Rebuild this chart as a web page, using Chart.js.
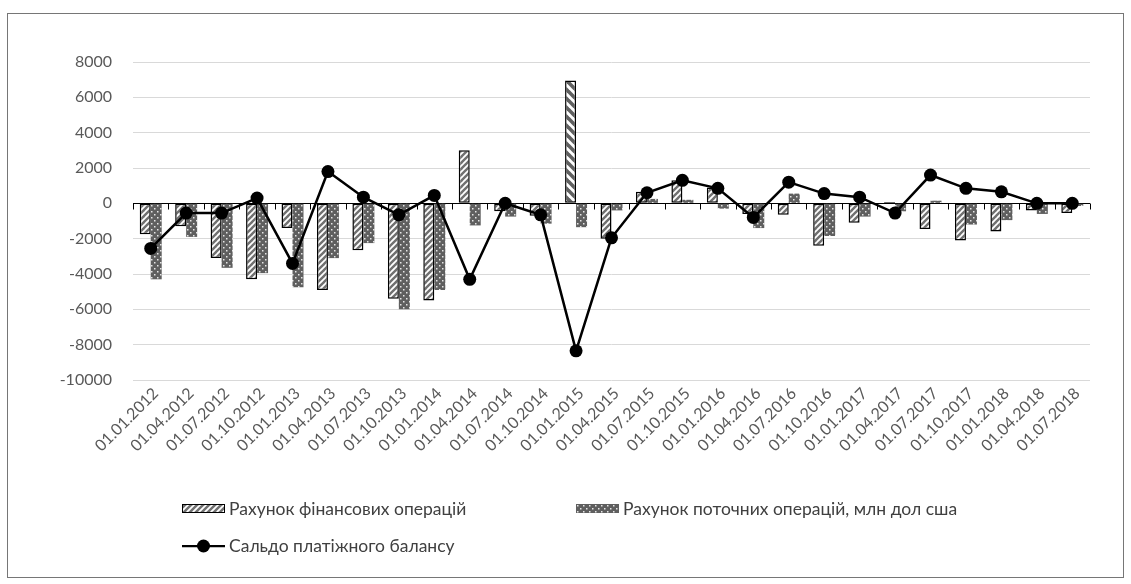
<!DOCTYPE html>
<html>
<head>
<meta charset="utf-8">
<script src="https://cdn.jsdelivr.net/npm/chart.js@4.4.1/dist/chart.umd.min.js"></script>
<style>
  html, body { margin: 0; padding: 0; background: #fff; }
  #wrap { width: 1131px; height: 584px; position: relative; }
</style>
</head>
<body>
<div id="wrap"><canvas id="c" width="1131" height="584"></canvas></div>
<script>
// Quarterly dates
const categories = [
  '01.01.2012','01.04.2012','01.07.2012','01.10.2012',
  '01.01.2013','01.04.2013','01.07.2013','01.10.2013',
  '01.01.2014','01.04.2014','01.07.2014','01.10.2014',
  '01.01.2015','01.04.2015','01.07.2015','01.10.2015',
  '01.01.2016','01.04.2016','01.07.2016','01.10.2016',
  '01.01.2017','01.04.2017','01.07.2017','01.10.2017',
  '01.01.2018','01.04.2018','01.07.2018'
];

// Financial account, million USD
const financialAccount = [
  -1750, -1300, -3100, -4300,
  -1400, -4900, -2650, -5400,
  -5500, 3000, -450, -700,
  6950, -2000, 650, 1300,
  900, -600, -650, -2400,
  -1100, 80, -1450, -2100,
  -1600, -400, -550
];

// Current account, million USD
const currentAccount = [
  -4300, -1900, -3650, -3950,
  -4750, -3100, -2250, -6000,
  -4900, -1250, -750, -1150,
  -1350, -400, 250, 200,
  -300, -1400, 550, -1850,
  -750, -450, 150, -1200,
  -950, -600, -150
];

// Balance of payments
const balance = [
  -2550, -550, -550, 300,
  -3400, 1800, 350, -650,
  450, -4300, 0, -650,
  -8350, -1950, 600, 1300,
  850, -800, 1200, 550,
  350, -550, 1600, 850,
  650, 0, 0
];

const yTicks = { min: -10000, max: 8000, step: 2000 };

const seriesNames = [
  'Рахунок фінансових операцій',
  'Рахунок поточних операцій, млн дол сша',
  'Сальдо платіжного балансу'
];

// --- fill patterns ---
function makePattern(size, painter) {
  const c = document.createElement('canvas');
  c.width = size; c.height = size;
  const g = c.getContext('2d');
  painter(g, size);
  return document.getElementById('c').getContext('2d').createPattern(c, 'repeat');
}

const hatchUp = makePattern(6, (g, s) => {
  g.fillStyle = '#ffffff'; g.fillRect(0, 0, s, s);
  g.strokeStyle = '#707070'; g.lineWidth = 2.4;
  for (let k = -1; k <= 1; k++) {
    g.beginPath();
    g.moveTo(k * s - 1, s + 1);
    g.lineTo(k * s + s + 1, -1);
    g.stroke();
  }
});

const hatchDown = makePattern(9, (g, s) => {
  g.fillStyle = '#ffffff'; g.fillRect(0, 0, s, s);
  g.strokeStyle = '#606060'; g.lineWidth = 3.6;
  for (let k = -1; k <= 1; k++) {
    g.beginPath();
    g.moveTo(k * s - 1, -1);
    g.lineTo(k * s + s + 1, s + 1);
    g.stroke();
  }
});

const dots = makePattern(6, (g, s) => {
  g.fillStyle = '#5f5f5f'; g.fillRect(0, 0, s, s);
  g.fillStyle = '#e6e6e6';
  g.fillRect(1, 1, 1.5, 1.5);
  g.fillRect(4, 4, 1.5, 1.5);
});

const finFill = financialAccount.map(v => v > 5000 ? hatchDown : hatchUp);

const FONT = 'Lato, "Open Sans", sans-serif';

// --- zero axis with tick marks, outer frame, legend ---
const decorations = {
  id: 'decorations',
  beforeDraw(chart) {
    const ctx = chart.ctx;
    ctx.save();
    ctx.fillStyle = '#ffffff';
    ctx.fillRect(0, 0, chart.width, chart.height);
    ctx.restore();
  },
  beforeDatasetsDraw(chart) {
    const ctx = chart.ctx, x = chart.scales.x, y = chart.scales.y;
    const y0 = Math.round(y.getPixelForValue(0)) + 0.5;
    const area = chart.chartArea;
    ctx.save();
    ctx.strokeStyle = '#000000';
    ctx.lineWidth = 1;
    ctx.beginPath();
    ctx.moveTo(area.left, y0);
    ctx.lineTo(area.right, y0);
    const half = (x.getPixelForValue(1) - x.getPixelForValue(0)) / 2;
    for (let i = 0; i <= categories.length; i++) {
      const px = Math.round(x.getPixelForValue(i) - half) + 0.5;
      ctx.moveTo(px, y0);
      ctx.lineTo(px, y0 + 6);
    }
    ctx.stroke();
    ctx.restore();
  },
  afterDraw(chart) {
    const ctx = chart.ctx;
    ctx.save();
    // frame
    ctx.strokeStyle = '#767676';
    ctx.lineWidth = 1;
    ctx.strokeRect(7.5, 13.5, 1116, 564);

    ctx.font = '17.5px ' + FONT;
    ctx.textBaseline = 'middle';

    // item 1
    ctx.fillStyle = hatchUp;
    ctx.fillRect(182, 504, 43, 9);
    ctx.strokeStyle = '#000'; ctx.lineWidth = 1;
    ctx.strokeRect(182.5, 504.5, 42, 8);
    ctx.fillStyle = '#404040';
    ctx.fillText(seriesNames[0], 229, 509);

    // item 2
    ctx.fillStyle = dots;
    ctx.fillRect(576, 504, 43, 9);
    ctx.fillStyle = '#404040';
    ctx.fillText(seriesNames[1], 623, 509);

    // item 3
    ctx.strokeStyle = '#000'; ctx.lineWidth = 2.25;
    ctx.beginPath(); ctx.moveTo(182, 546); ctx.lineTo(225, 546); ctx.stroke();
    ctx.fillStyle = '#000';
    ctx.beginPath(); ctx.arc(203.5, 546, 6.5, 0, Math.PI * 2); ctx.fill();
    ctx.fillStyle = '#404040';
    ctx.fillText(seriesNames[2], 229, 546);
    ctx.restore();
  }
};

new Chart(document.getElementById('c'), {
  type: 'bar',
  data: {
    labels: categories,
    datasets: [
      {
        type: 'line',
        label: seriesNames[2],
        data: balance,
        borderColor: '#000000',
        backgroundColor: '#000000',
        borderWidth: 2.5,
        pointRadius: 6.5,
        pointBackgroundColor: '#000000',
        pointBorderWidth: 0,
        tension: 0,
        order: 0
      },
      {
        label: seriesNames[0],
        data: financialAccount,
        backgroundColor: finFill,
        borderColor: '#000000',
        borderWidth: 1.5,
        borderSkipped: false,
        barPercentage: 1,
        categoryPercentage: 0.62,
        order: 1
      },
      {
        label: seriesNames[1],
        data: currentAccount,
        backgroundColor: dots,
        borderWidth: 0,
        barPercentage: 1,
        categoryPercentage: 0.62,
        order: 1
      }
    ]
  },
  options: {
    responsive: false,
    animation: false,
    devicePixelRatio: 1,
    layout: { padding: { left: 0, right: 41, top: 62, bottom: 0 } },
    plugins: {
      legend: { display: false },
      tooltip: { enabled: false }
    },
    scales: {
      x: {
        grid: { display: false },
        border: { display: false },
        ticks: {
          autoSkip: false,
          minRotation: 45,
          maxRotation: 45,
          padding: -4,
          labelOffset: 5,
          color: '#595959',
          font: { family: FONT, size: 16 }
        },
        afterFit(scale) { scale.height = 204; }
      },
      y: {
        min: yTicks.min,
        max: yTicks.max,
        grid: { color: '#d9d9d9', lineWidth: 1, drawTicks: false },
        border: { display: false },
        ticks: {
          stepSize: yTicks.step,
          padding: 21,
          color: '#595959',
          font: { family: FONT, size: 16 },
          callback: v => String(v)
        },
        afterFit(scale) { scale.width = 133; }
      }
    }
  },
  plugins: [decorations]
});
</script>
</body>
</html>
